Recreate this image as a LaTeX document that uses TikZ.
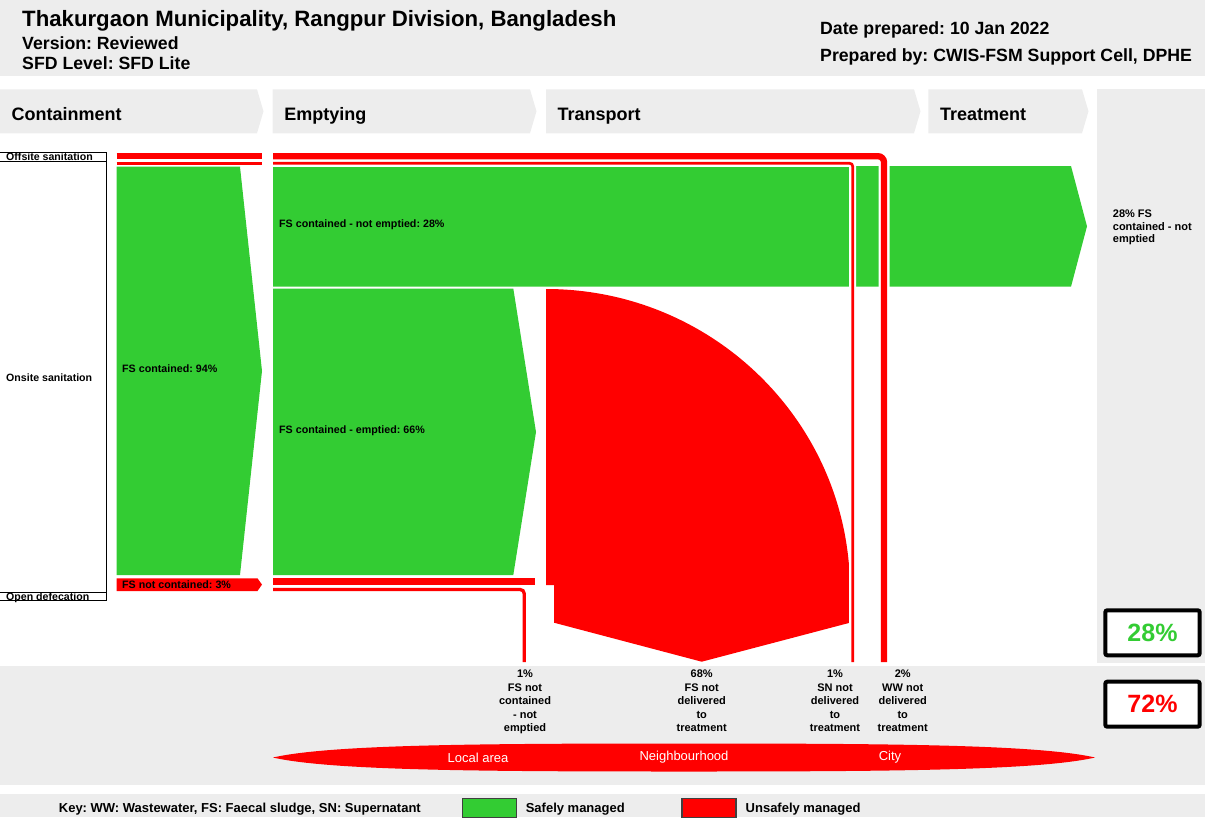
\documentclass[tikz,border=0pt]{standalone}
\usepackage{fontspec}
\setmainfont{Liberation Sans}
\frenchspacing

\definecolor{sfdgreen}{RGB}{51,204,51}
\definecolor{sfdred}{RGB}{255,0,0}
\definecolor{sfdgrey}{RGB}{237,237,237}
\newcommand{\sfdfont}[2]{\fontsize{#1}{#2}\selectfont}

\begin{document}
\begin{tikzpicture}[x=1pt,y=-1pt,
  stagetext/.style={anchor=base west,inner sep=0,font=\bfseries\sfdfont{18}{20}},
  headtext/.style={anchor=base west,inner sep=0,font=\bfseries\sfdfont{17.7}{20}},
  sidetext/.style={anchor=base west,inner sep=0,font=\bfseries\sfdfont{10.6}{12}},
  flowtext/.style={anchor=west,inner sep=0,font=\bfseries\sfdfont{10.7}{12}},
  outtext/.style={anchor=north,inner sep=0,align=center,font=\bfseries\sfdfont{11}{13.4}},
  areatext/.style={inner sep=0,text=white,font=\sfdfont{13}{14}},
  keytext/.style={anchor=base west,inner sep=0,font=\bfseries\sfdfont{13}{14}},
  pctbox/.style={draw=black,line width=4pt,fill=white,rounded corners=2pt,
    minimum width=94.4pt,minimum height=45pt,inner sep=0,font=\bfseries\sfdfont{25}{26}},
  swatch/.style={draw=black!75,line width=1.2pt},
  halo/.style={draw=white,line width=#1},
  pipe/.style={draw=sfdred,line width=#1},
  safe/.style={fill=sfdgreen},
  unsafe/.style={fill=sfdred}]

\useasboundingbox (0,0) rectangle (1205,817);

% header
\fill[sfdgrey] (0,0) rectangle (1205,76);
\node[anchor=base west,inner sep=0,font=\bfseries\sfdfont{22.2}{24}] (title) at (22,26)
  {Thakurgaon Municipality, Rangpur Division, Bangladesh};
\node[headtext] (version) at (22,49.3) {Version: Reviewed};
\node[headtext] (level) at (22,69) {SFD Level: SFD Lite};
\node[headtext] (date) at (820,34.3) {Date prepared: 10 Jan 2022};
\node[headtext] (author) at (820,61) {Prepared by: CWIS-FSM Support Cell, DPHE};

% stages
\foreach \xa/\xb/\lab/\nm in {0/257/Containment/contain, 272.7/530/Emptying/empty,
    546/914/Transport/transport, 928.3/1082/Treatment/treat}{
  \fill[sfdgrey] (\xa,89.3) -- (\xb,89.3) -- (\xb+6.5,111.3) -- (\xb,133.3) -- (\xa,133.3) -- cycle;
  \node[stagetext] (\nm) at (\xa+11.5,120.7) {\lab};
}
\fill[sfdgrey] (1096.7,89.3) rectangle (1205,663);
\node[anchor=north west,inner sep=0,align=left,font=\bfseries\sfdfont{11}{12.5}] (result)
  at (1112.7,210) {28\% FS\\contained - not\\emptied};

% sanitation types
\draw[line width=1pt] (0,152.7) -- (106.3,152.7) -- (106.3,600.7) -- (0,600.7);
\draw[line width=1pt] (0,161) -- (106.3,161);
\draw[line width=1pt] (0,592.7) -- (106.3,592.7);
\node[sidetext] (offsite) at (6,160) {Offsite sanitation};
\node[sidetext] (onsite) at (6,381) {Onsite sanitation};
\node[sidetext] (opendef) at (6,600) {Open defecation};

% containment
\fill[safe] (116.7,166.7) -- (240,166.7) -- (262,371) -- (240,575) -- (116.7,575) -- cycle;
\node[flowtext] (contained) at (122,369) {FS contained: 94\%};
\fill[unsafe] (116.7,578.3) -- (257.5,578.3) -- (262,584.6) -- (257.5,591) -- (116.7,591) -- cycle;
\node[flowtext] (notcontained) at (122,584.6) {FS not contained: 3\%};
\draw[pipe=6.3pt] (116.7,156.2) -- (262,156.2);
\draw[pipe=2.7pt] (116.7,163.3) -- (262,163.3);

% emptying
\fill[safe] (273,166) -- (1071,166) -- (1087,226.3) -- (1071,286.7) -- (273,286.7) -- cycle;
\node[flowtext] (notemptied) at (279,225) {FS contained - not emptied: 28\%};
\fill[safe] (273,288.5) -- (513.3,288.5) -- (536,432) -- (513.3,575) -- (273,575) -- cycle;
\node[flowtext] (emptied) at (279,431) {FS contained - emptied: 66\%};
\fill[unsafe] (273,578.3) rectangle (535,585);
\draw[pipe=3.3pt,rounded corners=4] (273,589.5) -- (524.2,589.5) -- (524.2,662);

% transport
\fill[unsafe] (546,289) -- (546,585) -- (554,585) -- (554,622.7) -- (701.7,661.7)
  -- (850,622.7) -- (850,590) .. controls (850,423.8) and (713.9,289) .. (546,289) -- cycle;

% offsite pipes
\draw[halo=11pt,rounded corners=6] (273,156.2) -- (884,156.2) -- (884,662);
\draw[halo=7pt,rounded corners=3] (273,163.3) -- (852.7,163.3) -- (852.7,662);
\draw[pipe=6.3pt,rounded corners=6] (273,156.2) -- (884,156.2) -- (884,662);
\draw[pipe=2.7pt,rounded corners=3] (273,163.3) -- (852.7,163.3) -- (852.7,662);

% outcomes
\fill[sfdgrey] (0,665.7) rectangle (1205,785);
\node[outtext] (outa) at (525,670) {1\%\\FS not\\contained\\- not\\emptied};
\node[outtext] (outb) at (701.7,670) {68\%\\FS not\\delivered\\to\\treatment};
\node[outtext] (outc) at (835,670) {1\%\\SN not\\delivered\\to\\treatment};
\node[outtext] (outd) at (902.7,670) {2\%\\WW not\\delivered\\to\\treatment};

\node[pctbox,text=sfdgreen] (safepct) at (1152.5,632.8) {28\%};
\node[pctbox,text=sfdred] (unsafepct) at (1152.5,704.2) {72\%};

\fill[unsafe] (273,757.5) .. controls (330,744.5) and (480,743.5) .. (684,743.5)
  .. controls (888,743.5) and (1038,744.5) .. (1095,757.5)
  .. controls (1038,770.5) and (888,771.5) .. (684,771.5)
  .. controls (480,771.5) and (330,770.5) .. cycle;
\node[areatext] (local) at (478,757.5) {Local area};
\node[areatext] (neigh) at (684,757.5) {Neighbourhood};
\node[areatext] (city) at (890,757.5) {City};

% key
\fill[sfdgrey] (0,794.3) rectangle (1205,817);
\node[keytext] (key) at (58.7,812.5) {Key: WW: Wastewater, FS: Faecal sludge, SN: Supernatant};
\draw[swatch,fill=sfdgreen] (462.5,798.5) rectangle (516.5,818);
\node[keytext] (safekey) at (525.6,812.5) {Safely managed};
\draw[swatch,fill=sfdred] (682,798.5) rectangle (736,818);
\node[keytext] (unsafekey) at (745.5,812.5) {Unsafely managed};

\end{tikzpicture}
\end{document}
